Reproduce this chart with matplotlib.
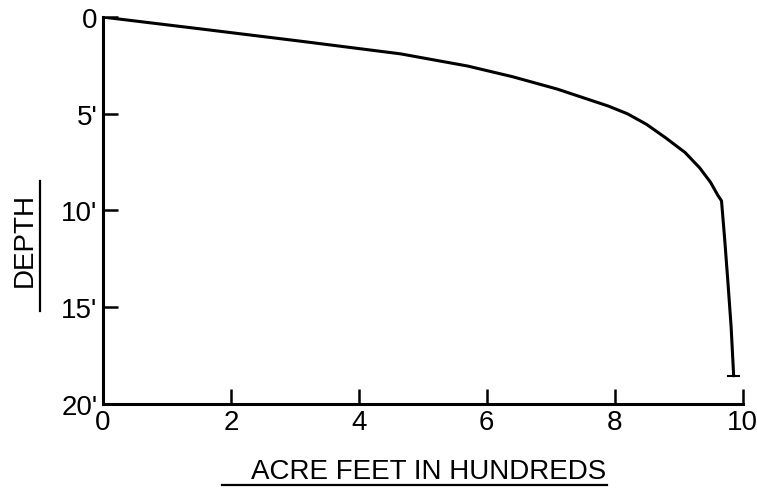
import matplotlib
matplotlib.use("Agg")
import matplotlib.pyplot as plt

# Data (acre feet in hundreds vs depth in feet)
acre_feet = [0.0, 1.5, 3.1, 4.65, 5.1, 5.7, 6.4, 7.1, 7.9, 8.2, 8.5, 8.8, 9.1, 9.33, 9.5, 9.61, 9.67, 9.72, 9.77, 9.82, 9.86]
depth = [0.0, 0.6, 1.25, 1.9, 2.17, 2.53, 3.08, 3.72, 4.6, 5.0, 5.55, 6.25, 7.0, 7.8, 8.55, 9.2, 9.5, 11.5, 13.7, 16.0, 18.55]
x_ticks = [0, 2, 4, 6, 8, 10]
x_tick_labels = ["0", "2", "4", "6", "8", "10"]
y_ticks = [0, 5, 10, 15, 20]
y_tick_labels = ["0", "5'", "10'", "15'", "20'"]

plt.rcParams['font.family'] = ['Liberation Sans', 'DejaVu Sans']

fig = plt.figure(figsize=(7.57, 4.89), dpi=100)
ax = fig.add_axes([0.136, 0.172, 0.845, 0.791])

ax.plot(acre_feet, depth, color='black', lw=2.2, solid_capstyle='round', solid_joinstyle='round')
# small end bar at the bottom of the curve
ax.plot([acre_feet[-1] - 0.09, acre_feet[-1] + 0.09], [depth[-1], depth[-1]], color='black', lw=1.5)

ax.set_xlim(0, 10)
ax.set_ylim(20, 0)
ax.set_xticks(x_ticks)
ax.set_xticklabels(x_tick_labels)
ax.set_yticks(y_ticks)
ax.set_yticklabels(y_tick_labels)

for s in ['top', 'right']:
    ax.spines[s].set_visible(False)
for s in ['left', 'bottom']:
    ax.spines[s].set_linewidth(2.2)

ax.tick_params(axis='both', direction='in', length=11, width=1.8, labelsize=20, pad=4)
ax.tick_params(axis='y', pad=4)

fig.text(0.566, 0.035, "ACRE FEET IN HUNDREDS", fontsize=20, ha='center', va='center')
fig.text(0.033, 0.51, "DEPTH", fontsize=20, ha='center', va='center', rotation=90)

# underline the axis labels as in the original
fig.add_artist(plt.Line2D([0.293, 0.802], [0.006, 0.006], color='black', lw=1.6, transform=fig.transFigure))
fig.add_artist(plt.Line2D([0.053, 0.053], [0.362, 0.628], color='black', lw=1.6, transform=fig.transFigure))

fig.savefig("out.png", dpi=100)
